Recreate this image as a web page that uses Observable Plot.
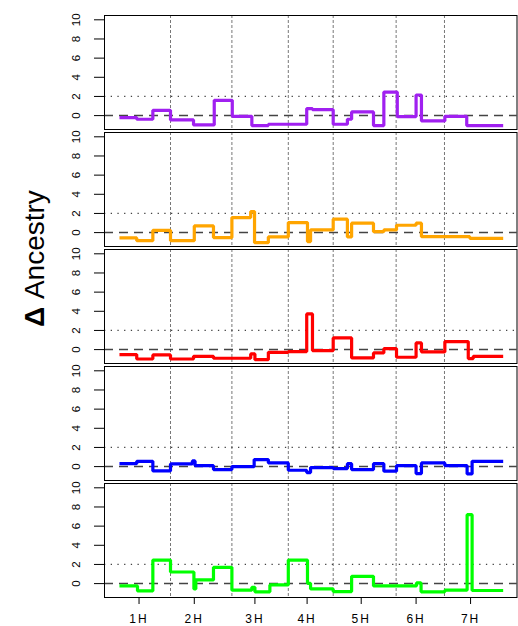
<!DOCTYPE html>
<html><head><meta charset="utf-8">
<script src="https://cdn.jsdelivr.net/npm/d3@7"></script>
<script src="https://cdn.jsdelivr.net/npm/@observablehq/plot@0.6"></script>
<style>
body{margin:0;background:#fff;font-family:"Liberation Sans",Arial,Helvetica,sans-serif}
#wrap{position:relative;width:518px;height:626px}
</style></head><body><div id="wrap"></div>
<script>
// panels (top to bottom) and their colours
const panels = ["purple", "orange", "red", "blue", "green"];
const panelColors = ["#A020F0", "#FFA500", "#FF0000", "#0000FF", "#00FF00"];

// step series: start positions (cumulative map units) and Δ ancestry values
const purpleStart = [0, 45, 87, 133, 193, 247, 294, 345, 388, 488, 503, 557, 594, 605, 662, 689, 724, 773, 787, 848, 905];
const purpleValue = [-0.2, -0.38, 0.55, -0.45, -0.97, 1.6, -0.07, -1.04, -0.9, 0.73, 0.62, -0.9, -0.38, 0.38, -1.04, 2.46, -0.1, 2.15, -0.55, -0.07, -1.04];

const orangeStart = [0, 45, 87, 133, 195, 245, 293, 342, 352, 388, 440, 490, 498, 557, 594, 605, 662, 689, 722, 773, 787, 913];
const orangeValue = [-0.56, -0.84, 0.24, -0.84, 0.7, -0.52, 1.57, 2.2, -1.05, -0.45, 1.05, -0.94, 0.28, 1.4, -0.45, 0.98, 0.1, 0.28, 0.77, 0.98, -0.42, -0.6];

const redStart = [0, 45, 87, 133, 193, 245, 342, 353, 388, 440, 488, 503, 557, 605, 662, 689, 722, 773, 787, 848, 909, 922];
const redValue = [-0.52, -0.98, -0.56, -0.98, -0.7, -0.9, -0.45, -1.05, -0.28, -0.2, 3.73, -0.1, 1.22, -0.87, -0.35, 0.1, -0.8, 0.7, -0.24, 0.84, -0.94, -0.7];

const blueStart = [0, 45, 87, 133, 190, 197, 245, 293, 351, 388, 440, 488, 498, 557, 594, 605, 662, 689, 722, 773, 787, 848, 906, 919];
const blueValue = [0.31, 0.55, -0.45, 0.28, 0.59, 0.1, -0.31, 0, 0.73, 0.38, -0.38, -0.62, -0.1, -0.2, 0.31, -0.31, 0.31, -0.48, 0.1, -0.73, 0.38, 0.1, -0.76, 0.55];

const greenStart = [0, 47, 87, 133, 194, 199, 245, 293, 345, 353, 392, 440, 490, 498, 557, 605, 662, 774, 786, 848, 906, 919];
const greenValue = [-0.24, -0.76, 2.46, 1.21, -0.55, 0.38, 1.7, -0.69, -0.38, -0.86, -0.14, 2.46, 0.03, -0.55, -0.83, 0.76, -0.24, 0.07, -0.86, -0.69, 7.2, -0.72];

const mapEnd = 1000;

// chromosomes
const chromLabels = ["1H", "2H", "3H", "4H", "5H", "6H", "7H"];
const chromTicks = [51, 195, 353, 489, 630, 773, 915];
const chromBoundaries = [133, 293, 440, 557, 721, 847];

const yTicks = [0, 2, 4, 6, 8, 10];
const threshold = 2;

const starts = [purpleStart, orangeStart, redStart, blueStart, greenStart];
const values = [purpleValue, orangeValue, redValue, blueValue, greenValue];
const rows = [];
panels.forEach((p, i) => {
  starts[i].forEach((s, j) => rows.push({panel: p, x: s, y: values[i][j]}));
  rows.push({panel: p, x: mapEnd, y: values[i][values[i].length - 1]});
});

const chart = Plot.plot({
  width: 518,
  height: 626,
  marginTop: 13,
  marginBottom: 27,
  marginLeft: 104,
  marginRight: 1.5,
  style: {fontFamily: '"Liberation Sans", Arial, sans-serif', background: "white"},
  x: {domain: [-39, 1036], label: null},
  y: {domain: [-1.45, 10.45], label: null},
  fy: {domain: panels, paddingInner: 0.024, paddingOuter: 0, axis: null, label: null},
  color: {domain: panels, range: panelColors},
  marks: [
    Plot.ruleX(chromBoundaries, {stroke: "#777", strokeDasharray: "3,2", strokeWidth: 1}),
    Plot.ruleY([0], {stroke: "#444", strokeDasharray: "9,6", strokeWidth: 1.5}),
    Plot.ruleY([threshold], {stroke: "#444", strokeDasharray: "1.3,5.4", strokeWidth: 1.3}),
    Plot.line(rows, {x: "x", y: "y", z: "panel", fy: "panel", stroke: {value: "panel", scale: "color"}, curve: "step-after", strokeWidth: 3.2, strokeLinejoin: "miter", strokeLinecap: "butt"}),
    Plot.frame({stroke: "black", strokeWidth: 1}),
    Plot.axisY({ticks: yTicks, tickSize: 10, tickRotate: -90, tickPadding: 15, fontSize: 11.5, stroke: "black", label: null}),
    Plot.axisX({ticks: chromTicks, tickFormat: (d, i) => chromLabels[i], tickSize: 7, tickPadding: 10, fontSize: 12, label: null})
  ]
});
document.getElementById("wrap").appendChild(chart);

// style x tick labels (wide lettering as in the reference)
d3.select(chart).selectAll('g[aria-label="x-axis tick label"] text').style("letter-spacing", "2px");

// y-axis title
const svg = d3.select(chart);
const t = svg.append("text")
  .attr("transform", "translate(44,327) rotate(-90)")
  .attr("text-anchor", "start")
  .attr("font-size", 28)
  .attr("fill", "black")
  .attr("font-family", '"Liberation Sans", Arial, sans-serif');
t.append("tspan").attr("font-weight", "bold").text("Δ");
t.append("tspan").text(" Ancestry");
</script></body></html>
